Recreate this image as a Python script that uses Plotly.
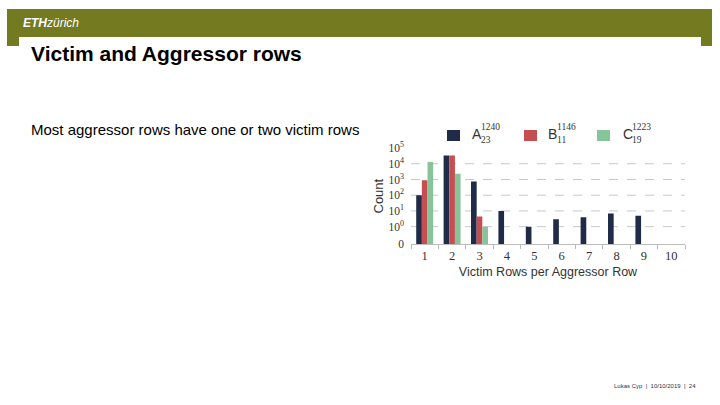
import plotly.graph_objects as go

W, H = 720, 405

# ---------------- data ----------------
categories = ["1", "2", "3", "4", "5", "6", "7", "8", "9", "10"]
series_a = [100, 33000, 750, 10, 1, 3, 4, 7, 5, 0]
series_b = [900, 33000, 4.4, 0, 0, 0, 0, 0, 0, 0]
series_c = [13000, 2300, 1, 0, 0, 0, 0, 0, 0, 0]
series_letters = ["A", "B", "C"]
series_sup = ["1240", "1146", "1223"]
series_sub = ["23", "11", "19"]
colors = ["#1f2b47", "#c44e52", "#88c49a"]
zero_pos = 10 ** -1.12
y_tick_vals = [zero_pos, 1, 10, 100, 1000, 10000, 100000]
y_tick_text = ["0", "10<sup>0</sup>", "10<sup>1</sup>", "10<sup>2</sup>",
               "10<sup>3</sup>", "10<sup>4</sup>", "10<sup>5</sup>"]
grid_vals = [1, 10, 100, 1000, 10000]


def px(x):
    return x / W


def py(y):
    return 1 - y / H


SANS = "Liberation Sans, Arial, sans-serif"
SERIF = "Liberation Serif, Times New Roman, serif"

fig = go.Figure()
for vals, name, col in zip([series_a, series_b, series_c], series_letters, colors):
    fig.add_trace(go.Bar(
        x=categories,
        y=[v if v > 0 else None for v in vals],
        name=name,
        marker=dict(color=col, line=dict(width=0)),
        showlegend=False,
    ))

shapes = []
annotations = []

# header band
shapes.append(dict(type="rect", xref="paper", yref="paper",
                   x0=px(7), x1=px(712), y0=py(46), y1=py(9),
                   fillcolor="#737a1f", line=dict(width=0), layer="below"))
shapes.append(dict(type="rect", xref="paper", yref="paper",
                   x0=px(19), x1=px(701), y0=py(47), y1=py(37),
                   fillcolor="#ffffff", line=dict(width=0), layer="below"))
annotations.append(dict(
    x=px(21), y=py(23), xref="paper", yref="paper", xanchor="left", yanchor="middle",
    text="<b><i>ETH</i></b><i>zürich</i>", showarrow=False,
    font=dict(family=SANS, size=12, color="#ffffff")))
annotations.append(dict(
    x=px(29), y=py(53), xref="paper", yref="paper", xanchor="left", yanchor="middle",
    text="<b>Victim and Aggressor rows</b>", showarrow=False,
    font=dict(family=SANS, size=21, color="#000000")))
annotations.append(dict(
    x=px(29), y=py(129), xref="paper", yref="paper", xanchor="left", yanchor="middle",
    text="Most aggressor rows have one or two victim rows", showarrow=False,
    font=dict(family=SANS, size=15, color="#000000")))
annotations.append(dict(
    x=px(698), y=py(386), xref="paper", yref="paper", xanchor="right", yanchor="middle",
    text="Lukas Cyp  |  10/10/2019  |  24", showarrow=False,
    font=dict(family=SANS, size=6, color="#333333")))

# dashed grid lines (data-space y via axis scale)
for g in grid_vals:
    shapes.append(dict(type="line", xref="x domain", yref="y", x0=0, x1=1, y0=g, y1=g,
                       line=dict(color="#c8c8c8", width=1, dash="dash"), layer="below"))

# legend
leg_sq_x = [447, 524, 597]
leg_letter_x = [470, 546, 621]
for i in range(3):
    shapes.append(dict(type="rect", xref="paper", yref="paper",
                       x0=px(leg_sq_x[i]), x1=px(leg_sq_x[i] + 13),
                       y0=py(141), y1=py(130),
                       fillcolor=colors[i], line=dict(width=0)))
    annotations.append(dict(
        x=px(leg_letter_x[i]), y=py(134), xref="paper", yref="paper",
        xanchor="left", yanchor="middle", text=series_letters[i], showarrow=False,
        font=dict(family=SANS, size=14, color="#333333")))
    annotations.append(dict(
        x=px(leg_letter_x[i] + 9), y=py(127), xref="paper", yref="paper",
        xanchor="left", yanchor="middle", text=series_sup[i], showarrow=False,
        font=dict(family=SERIF, size=9.5, color="#333333")))
    annotations.append(dict(
        x=px(leg_letter_x[i] + 9), y=py(140), xref="paper", yref="paper",
        xanchor="left", yanchor="middle", text=series_sub[i], showarrow=False,
        font=dict(family=SERIF, size=9.5, color="#333333")))

fig.update_layout(
    width=W, height=H, autosize=False,
    margin=dict(l=0, r=0, t=0, b=0, pad=0, autoexpand=False),
    paper_bgcolor="#ffffff", plot_bgcolor="#ffffff",
    barmode="group", bargap=0.38, bargroupgap=0,
    shapes=shapes, annotations=annotations,
    showlegend=False,
    xaxis=dict(
        domain=[px(411), px(685)],
        type="category",
        automargin=False,
        tickson="boundaries",
        ticks="outside", ticklen=4, tickcolor="#bbbbbb", tickwidth=1,
        showline=True, linecolor="#bbbbbb", linewidth=1,
        showgrid=False, zeroline=False,
        tickfont=dict(family=SERIF, size=12.5, color="#333333"),
        title=dict(text="Victim Rows per Aggressor Row", standoff=4,
                   font=dict(family=SANS, size=12.5, color="#333333")),
        fixedrange=True,
    ),
    yaxis=dict(
        domain=[py(244.3), py(148)],
        type="log",
        automargin=False,
        range=[-1.12, 5.0],
        tickmode="array", tickvals=y_tick_vals, ticktext=y_tick_text,
        ticks="", showline=False, showgrid=False, zeroline=False,
        ticklabelstandoff=6,
        tickfont=dict(family=SERIF, size=11.5, color="#333333"),
        title=dict(text="Count", standoff=1,
                   font=dict(family=SANS, size=13, color="#333333")),
        fixedrange=True,
    ),
)

fig.write_html(
    "out.html",
    config={"displayModeBar": False},
    post_script=(
        "var d=document.getElementById('{plot_id}');"
        "d.style.position='fixed';d.style.top='0px';d.style.left='0px';"
        "document.body.style.margin='0';document.body.style.overflow='hidden';"
    ),
)
